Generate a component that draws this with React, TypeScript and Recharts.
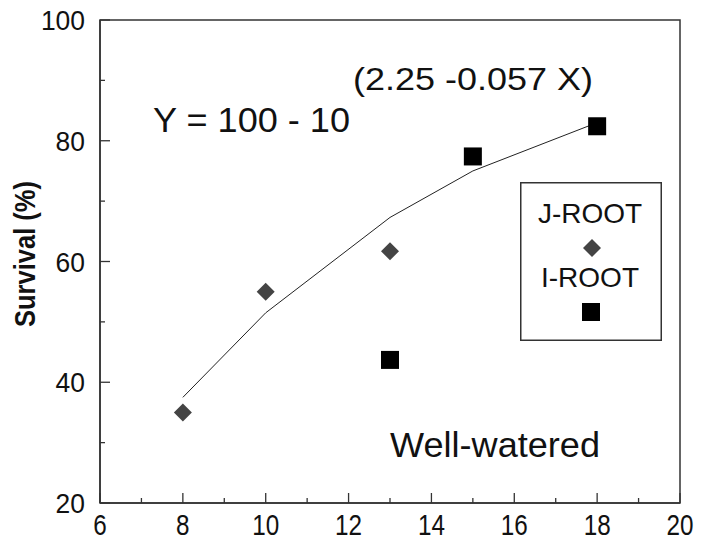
import {
  Legend,
  ReferenceArea,
  Scatter,
  ScatterChart,
  XAxis,
  YAxis,
} from 'recharts';

const J_ROOT_X = [8, 10, 13];
const J_ROOT_Y = [35, 55, 61.7];
const I_ROOT_X = [13, 15, 18];
const I_ROOT_Y = [43.7, 77.4, 82.4];
const FIT_X = [8, 10, 13, 15, 18];
const FIT_Y = [37.5, 51.5, 67.3, 75, 83];
const X_TICKS = [6, 7, 8, 9, 10, 11, 12, 13, 14, 15, 16, 17, 18, 19, 20];
const Y_TICKS = [20, 30, 40, 50, 60, 70, 80, 90, 100];
const SERIES_NAMES = ['J-ROOT', 'I-ROOT'];

const AXIS = '#333';
const INK = '#111';
const FONT = 'Arial, "Liberation Sans", Helvetica, sans-serif';

const toPoints = (xs: number[], ys: number[]) => xs.map((x, i) => ({ x, y: ys[i] }));
const jRoot = toPoints(J_ROOT_X, J_ROOT_Y);
const iRoot = toPoints(I_ROOT_X, I_ROOT_Y);
const fit = toPoints(FIT_X, FIT_Y);

const Diamond = ({ cx, cy }: any) => (
  <polygon
    points={`${cx},${cy - 9} ${cx + 9},${cy} ${cx},${cy + 9} ${cx - 9},${cy}`}
    fill="#444"
  />
);

const Square = ({ cx, cy }: any) => (
  <rect x={cx - 9} y={cy - 9} width={18} height={18} fill="#000" />
);

const NoDot = () => <g />;

const XTick = ({ x, y, payload }: any) => {
  const v = payload.value;
  const major = v % 2 === 0;
  return (
    <g>
      <line x1={x} y1={y} x2={x} y2={y - (major ? 10 : 5)} stroke={AXIS} strokeWidth={1.3} />
      {major && (
        <text
          x={x}
          y={y + 32}
          textAnchor="middle"
          fontSize={30}
          fontFamily={FONT}
          fill={INK}
          textLength={String(v).length * 13.5}
          lengthAdjust="spacingAndGlyphs"
        >
          {v}
        </text>
      )}
    </g>
  );
};

const YTick = ({ x, y, payload }: any) => {
  const v = payload.value;
  const major = v % 20 === 0;
  return (
    <g>
      <line x1={x} y1={y} x2={x + (major ? 10 : 5)} y2={y} stroke={AXIS} strokeWidth={1.3} />
      {major && (
        <text
          x={x - 15}
          y={y + 10}
          textAnchor="end"
          fontSize={28}
          fontFamily={FONT}
          fill={INK}
          textLength={String(v).length * 14.7}
          lengthAdjust="spacingAndGlyphs"
        >
          {v}
        </text>
      )}
    </g>
  );
};

const LegendBox = () => (
  <svg width={142} height={159} style={{ display: 'block' }}>
    <rect x={0.75} y={0.75} width={140.5} height={157.5} fill="#fff" stroke={AXIS} strokeWidth={1.5} />
    <text x={70} y={41} textAnchor="middle" fontSize={28} fontFamily={FONT} fill={INK}>
      {SERIES_NAMES[0]}
    </text>
    <Diamond cx={72} cy={66} />
    <text x={70} y={105} textAnchor="middle" fontSize={28} fontFamily={FONT} fill={INK}>
      {SERIES_NAMES[1]}
    </text>
    <Square cx={71} cy={130} />
  </svg>
);

export default function App() {
  return (
    <div style={{ position: 'absolute', left: 0, top: 0, width: 708, height: 540, background: '#fff' }}>
      <ScatterChart width={708} height={540} margin={{ top: 20, right: 28, bottom: 0, left: 40 }}>
        <XAxis
          type="number"
          dataKey="x"
          domain={[6, 20]}
          ticks={X_TICKS}
          interval={0}
          allowDataOverflow
          height={37}
          tickSize={0}
          tickMargin={0}
          tickLine={false}
          axisLine={{ stroke: AXIS, strokeWidth: 1.5 }}
          tick={<XTick />}
        />
        <YAxis
          type="number"
          dataKey="y"
          domain={[20, 100]}
          ticks={Y_TICKS}
          interval={0}
          allowDataOverflow
          width={60}
          tickSize={0}
          tickMargin={0}
          tickLine={false}
          axisLine={{ stroke: AXIS, strokeWidth: 1.5 }}
          tick={<YTick />}
        />
        <ReferenceArea x1={6} x2={20} y1={20} y2={100} fill="none" fillOpacity={0} stroke={AXIS} strokeWidth={1.5} />
        <Scatter
          name="fit"
          data={fit}
          shape={<NoDot />}
          line={{ stroke: '#222', strokeWidth: 1 }}
          lineType="joint"
          legendType="none"
          isAnimationActive={false}
        />
        <Scatter name={SERIES_NAMES[0]} data={jRoot} shape={<Diamond />} isAnimationActive={false} />
        <Scatter name={SERIES_NAMES[1]} data={iRoot} shape={<Square />} isAnimationActive={false} />
        <Legend
          layout="horizontal"
          verticalAlign="middle"
          align="center"
          content={<LegendBox />}
          wrapperStyle={{ position: 'absolute', left: 520, top: 182, width: 142, height: 159 }}
        />
        <g fontFamily={FONT} fill={INK}>
          <text
            x={35}
            y={254}
            transform="rotate(-90 35 254)"
            textAnchor="middle"
            fontSize={30}
            fontWeight="bold"
            textLength={146}
            lengthAdjust="spacingAndGlyphs"
          >
            Survival (%)
          </text>
          <text x={153} y={132} fontSize={35} textLength={197} lengthAdjust="spacingAndGlyphs">
            Y = 100 - 10
          </text>
          <text x={353} y={90} fontSize={31} textLength={240} lengthAdjust="spacingAndGlyphs">
            (2.25 -0.057 X)
          </text>
          <text x={390} y={457} fontSize={35} textLength={210} lengthAdjust="spacingAndGlyphs">
            Well-watered
          </text>
        </g>
      </ScatterChart>
    </div>
  );
}
